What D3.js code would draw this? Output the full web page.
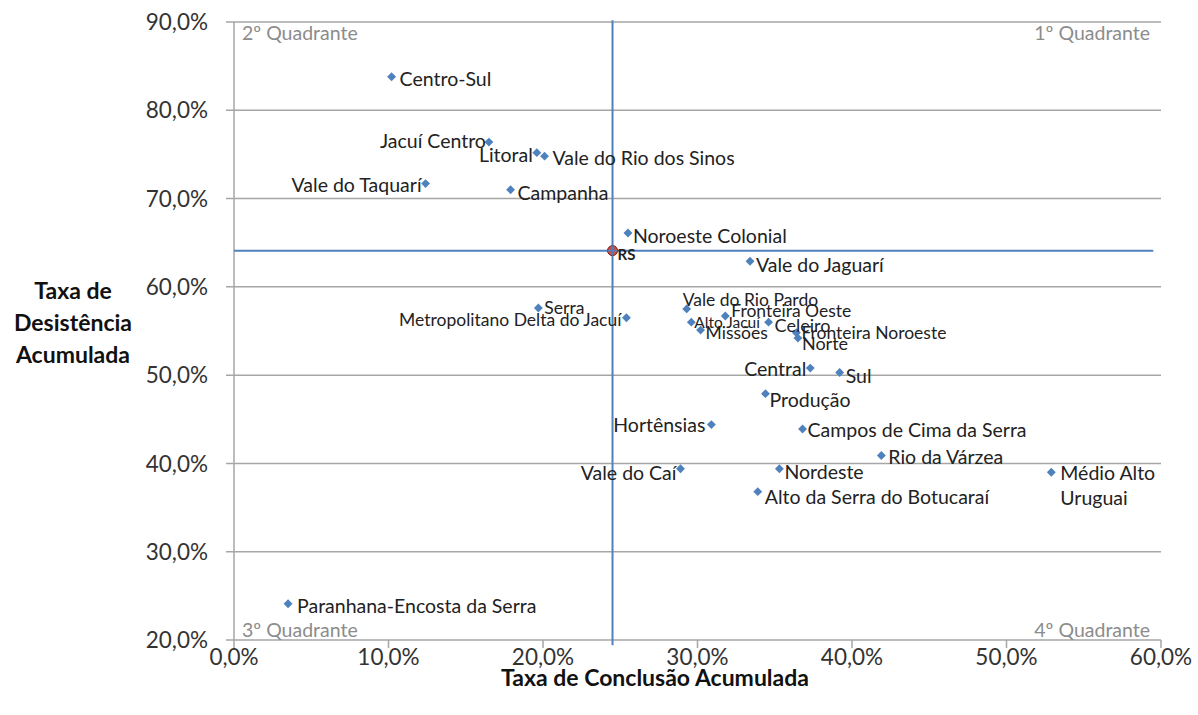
<!DOCTYPE html>
<html>
<head>
<meta charset="utf-8">
<script src="https://cdn.jsdelivr.net/npm/d3@7"></script>
<style>
  body { margin: 0; background: #fff; }
  svg text { font-family: Lato, "Open Sans", sans-serif; }
</style>
</head>
<body>
<div id="chart"></div>
<script>
// regions (COREDEs) with conclusion rate (x) and dropout rate (y)
const regions = [
    "Centro-Sul", "Jacuí Centro", "Litoral", "Vale do Rio dos Sinos", "Vale do Taquarí",
    "Campanha", "Noroeste Colonial", "Vale do Jaguarí", "Serra", "Metropolitano Delta do Jacuí",
    "Vale do Rio Pardo", "Fronteira Oeste", "Alto Jacuí", "Celeiro", "Missões",
    "Fronteira Noroeste", "Norte", "Central", "Sul", "Produção",
    "Hortênsias", "Campos de Cima da Serra", "Rio da Várzea", "Vale do Caí", "Nordeste",
    "Médio Alto Uruguai", "Alto da Serra do Botucaraí", "Paranhana-Encosta da Serra"
];
const conclusao = [
    0.102, 0.165, 0.196, 0.201, 0.124,
    0.179, 0.255, 0.334, 0.197, 0.254,
    0.293, 0.318, 0.296, 0.346, 0.302,
    0.364, 0.365, 0.373, 0.392, 0.344,
    0.309, 0.368, 0.419, 0.289, 0.353,
    0.529, 0.339, 0.035
];
const desistencia = [
    0.838, 0.764, 0.752, 0.748, 0.717,
    0.710, 0.661, 0.629, 0.576, 0.565,
    0.575, 0.567, 0.560, 0.560, 0.551,
    0.548, 0.542, 0.508, 0.503, 0.479,
    0.444, 0.439, 0.409, 0.394, 0.394,
    0.390, 0.368, 0.241
];
// state average (RS) splits the quadrants
const rsConclusao = 0.245;
const rsDesistencia = 0.641;

const xTicks = [0, 0.1, 0.2, 0.3, 0.4, 0.5, 0.6];
const yTicks = [0.2, 0.3, 0.4, 0.5, 0.6, 0.7, 0.8, 0.9];

// label placement: [anchor, dx, dy, font size]
const labelPos = {
    "Centro-Sul": ["start", 8, 2, 19.5],
    "Jacuí Centro": ["end", -3, -1, 19.5],
    "Litoral": ["end", -4, 2, 19.5],
    "Vale do Rio dos Sinos": ["start", 8, 2, 19.5],
    "Vale do Taquarí": ["end", -4, 1, 19.5],
    "Campanha": ["start", 7, 3, 19.5],
    "Noroeste Colonial": ["start", 5, 3, 19.5],
    "Vale do Jaguarí": ["start", 6, 4, 19.5],
    "Serra": ["start", 6, 0, 17.5],
    "Metropolitano Delta do Jacuí": ["end", -5, 2, 17.5],
    "Vale do Rio Pardo": ["start", -4, -9, 17.5],
    "Fronteira Oeste": ["start", 6, -5, 17.5],
    "Alto Jacuí": ["start", 3, 0, 15.5],
    "Celeiro": ["start", 6, 3, 18],
    "Missões": ["start", 5, 3, 17.5],
    "Fronteira Noroeste": ["start", 5, 0, 17.5],
    "Norte": ["start", 4, 5, 18],
    "Central": ["end", -4, 1, 19.5],
    "Sul": ["start", 6, 3, 19.5],
    "Produção": ["start", 4, 6, 19.5],
    "Hortênsias": ["end", -6, 0, 19.5],
    "Campos de Cima da Serra": ["start", 5, 1, 19.5],
    "Rio da Várzea": ["start", 7, 1, 19.5],
    "Vale do Caí": ["end", -4, 4, 19.5],
    "Nordeste": ["start", 5, 3, 19.5],
    "Médio Alto Uruguai": ["start", 9, 1, 19.5],
    "Alto da Serra do Botucaraí": ["start", 7, 5, 19.5],
    "Paranhana-Encosta da Serra": ["start", 9, 2, 19.5]
};

const width = 1198, height = 715;
const plotLeft = 234, plotRight = 1161, plotTop = 22, plotBottom = 640;

const locale = d3.formatLocale({ decimal: ",", thousands: ".", grouping: [3], currency: ["R$", ""] });
const pct = locale.format(".1%");

const x = d3.scaleLinear().domain([0, 0.6]).range([plotLeft, plotRight]);
const y = d3.scaleLinear().domain([0.2, 0.9]).range([plotBottom, plotTop]);

const svg = d3.select("#chart")
    .append("svg")
    .attr("width", width)
    .attr("height", height);

const gridColor = "#a6a6a6";

// horizontal gridlines
svg.append("g")
    .selectAll("line")
    .data(yTicks)
    .enter()
    .append("line")
    .attr("x1", plotLeft - 8)
    .attr("x2", plotRight)
    .attr("y1", d => y(d))
    .attr("y2", d => y(d))
    .attr("stroke", gridColor)
    .attr("stroke-width", 1.5);

// y axis line
svg.append("line")
    .attr("x1", plotLeft).attr("x2", plotLeft)
    .attr("y1", plotTop).attr("y2", plotBottom)
    .attr("stroke", gridColor)
    .attr("stroke-width", 1.5);

// x ticks
svg.append("g")
    .selectAll("line")
    .data(xTicks)
    .enter()
    .append("line")
    .attr("x1", d => x(d))
    .attr("x2", d => x(d))
    .attr("y1", plotBottom)
    .attr("y2", plotBottom + 8)
    .attr("stroke", gridColor)
    .attr("stroke-width", 1.5);

// tick labels
svg.append("g")
    .selectAll("text")
    .data(yTicks)
    .enter()
    .append("text")
    .attr("x", plotLeft - 26)
    .attr("y", d => y(d))
    .attr("dy", "0.36em")
    .attr("text-anchor", "end")
    .style("font-size", "22.5px")
    .style("fill", "#333")
    .text(d => pct(d));

svg.append("g")
    .selectAll("text")
    .data(xTicks)
    .enter()
    .append("text")
    .attr("x", d => x(d))
    .attr("y", plotBottom + 17)
    .attr("dy", "0.36em")
    .attr("text-anchor", "middle")
    .style("font-size", "22.5px")
    .style("fill", "#333")
    .text(d => pct(d));

// axis titles
svg.append("text")
    .attr("x", 655)
    .attr("y", 686)
    .attr("text-anchor", "middle")
    .style("font-size", "23px")
    .style("font-weight", "bold")
    .style("fill", "#111")
    .text("Taxa de Conclusão Acumulada");

const yTitle = svg.append("text")
    .attr("text-anchor", "middle")
    .style("font-size", "23px")
    .style("font-weight", "bold")
    .style("fill", "#111");
["Taxa de", "Desistência", "Acumulada"].forEach((t, i) => {
    yTitle.append("tspan")
        .attr("x", 73)
        .attr("y", 299 + i * 32)
        .text(t);
});

// quadrant names
const quadColor = "#8c8c8c";
[
    ["2º Quadrante", plotLeft + 8, plotTop + 11, "start"],
    ["1º Quadrante", plotRight - 11, plotTop + 11, "end"],
    ["3º Quadrante", plotLeft + 8, plotBottom - 10, "start"],
    ["4º Quadrante", plotRight - 11, plotBottom - 10, "end"]
].forEach(([t, tx, ty, anchor]) => {
    svg.append("text")
        .attr("x", tx)
        .attr("y", ty)
        .attr("dy", "0.36em")
        .attr("text-anchor", anchor)
        .style("font-size", "19.5px")
        .style("fill", quadColor)
        .text(t);
});

// RS reference lines
const blue = "#4f81bd";
svg.append("line")
    .attr("x1", x(0)).attr("x2", x(0.595))
    .attr("y1", y(rsDesistencia)).attr("y2", y(rsDesistencia))
    .attr("stroke", blue)
    .attr("stroke-width", 2);
svg.append("line")
    .attr("x1", x(rsConclusao)).attr("x2", x(rsConclusao))
    .attr("y1", y(0.902)).attr("y2", y(0.194))
    .attr("stroke", blue)
    .attr("stroke-width", 2);

// points
const points = regions.map((name, i) => ({ name, cx: conclusao[i], cy: desistencia[i] }));
const diamond = d3.symbol().type(d3.symbolDiamond2).size(50);

svg.append("g")
    .selectAll("path")
    .data(points)
    .enter()
    .append("path")
    .attr("d", diamond)
    .attr("transform", d => `translate(${x(d.cx)},${y(d.cy)})`)
    .attr("fill", blue);

// labels
const labels = svg.append("g")
    .selectAll("text")
    .data(points)
    .enter()
    .append("text")
    .attr("x", d => x(d.cx) + labelPos[d.name][1])
    .attr("y", d => y(d.cy) + labelPos[d.name][2])
    .attr("dy", "0.36em")
    .attr("text-anchor", d => labelPos[d.name][0])
    .style("font-size", d => labelPos[d.name][3] + "px")
    .style("fill", "#222");

labels.each(function(d) {
    const el = d3.select(this);
    if (d.name === "Médio Alto Uruguai") {
        el.append("tspan").text("Médio Alto");
        el.append("tspan")
            .attr("x", x(d.cx) + labelPos[d.name][1])
            .attr("dy", "1.25em")
            .text("Uruguai");
    } else {
        el.text(d.name);
    }
});

// RS marker
svg.append("circle")
    .attr("cx", x(rsConclusao))
    .attr("cy", y(rsDesistencia))
    .attr("r", 5)
    .attr("fill", "#c0504d")
    .attr("stroke", "#7f1f1f")
    .attr("stroke-width", 1);
svg.append("line")
    .attr("x1", x(rsConclusao) - 5).attr("x2", x(rsConclusao) + 5)
    .attr("y1", y(rsDesistencia)).attr("y2", y(rsDesistencia))
    .attr("stroke", blue).attr("stroke-width", 1.5);
svg.append("line")
    .attr("x1", x(rsConclusao)).attr("x2", x(rsConclusao))
    .attr("y1", y(rsDesistencia) - 5).attr("y2", y(rsDesistencia) + 5)
    .attr("stroke", blue).attr("stroke-width", 1.5);
svg.append("text")
    .attr("x", x(rsConclusao) + 5)
    .attr("y", y(rsDesistencia) + 4)
    .attr("dy", "0.36em")
    .style("font-size", "15px")
    .style("font-weight", "bold")
    .style("fill", "#222")
    .text("RS");
</script>
</body>
</html>
